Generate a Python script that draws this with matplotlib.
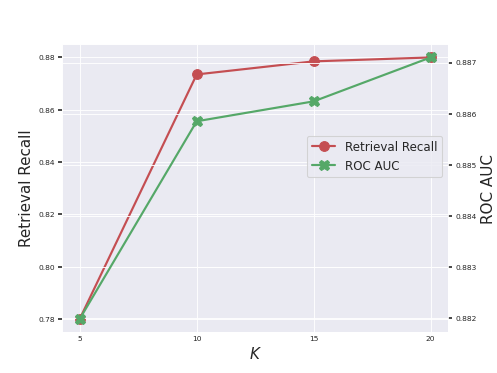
import matplotlib
matplotlib.use("Agg")
import matplotlib.pyplot as plt
import seaborn as sns

# data
k_values = [5, 10, 15, 20]
recall = [0.780, 0.8735, 0.8785, 0.8800]
roc_auc = [0.88198, 0.88585, 0.88624, 0.88710]

sns.set_style("darkgrid")
plt.rcParams['font.family'] = ['DejaVu Sans']

fig, ax = plt.subplots(figsize=(6.4, 4.8), dpi=77.8)
ax2 = ax.twinx()

l1, = ax.plot(k_values, recall, color="#c44e52", marker="o", markersize=9,
              linewidth=2, label="Retrieval Recall")
l2, = ax2.plot(k_values, roc_auc, color="#55a868", marker="X", markersize=10,
               linewidth=2, label="ROC AUC")

ax.set_xlabel("$K$", fontsize=14)
ax.set_ylabel("Retrieval Recall", fontsize=14)
ax2.set_ylabel("ROC AUC", fontsize=14)

ax.set_xticks(k_values)
ax.set_yticks([0.78, 0.80, 0.82, 0.84, 0.86, 0.88])
ax2.set_yticks([0.882, 0.883, 0.884, 0.885, 0.886, 0.887])
ax.tick_params(axis="x", labelsize=7, length=0)
ax.tick_params(axis="y", labelsize=7, left=True, length=3.5, width=1.5, color="#222222")
ax2.tick_params(axis="y", labelsize=7, right=True, length=3.5, width=1.5, color="#222222")

ax2.legend([l1, l2], [l1.get_label(), l2.get_label()], loc="center right",
           bbox_to_anchor=(1.0, 0.61), fontsize=11, frameon=True)

fig.savefig("out.png", dpi=77.8)
